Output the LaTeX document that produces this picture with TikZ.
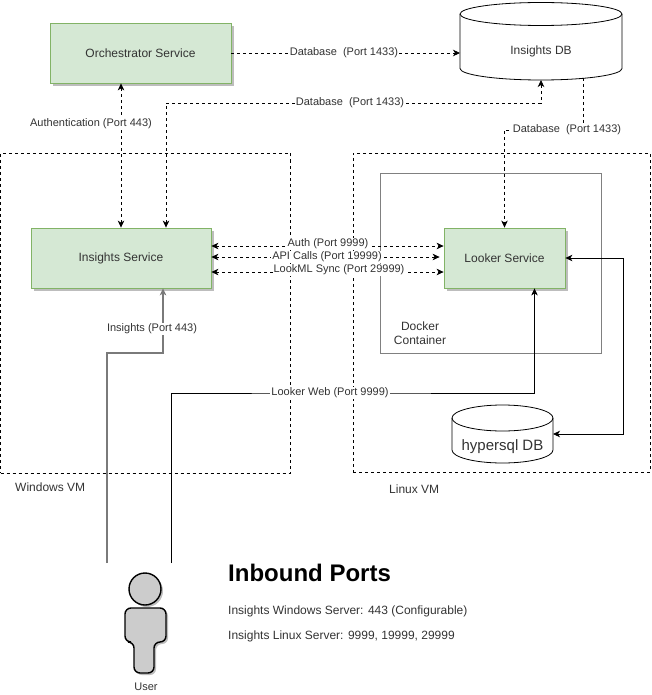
\documentclass[tikz,border=0pt]{standalone}
\usepackage{fontspec}
\setmainfont{Liberation Sans}
\usetikzlibrary{arrows.meta,calc,shadows}
\definecolor{gfill}{HTML}{D5E8D4}
\definecolor{gline}{HTML}{82B366}
\definecolor{txt}{HTML}{333333}
\definecolor{shad}{HTML}{BDBDBD}
\definecolor{boxgray}{HTML}{808080}
\definecolor{actfill}{HTML}{CCCCCC}
\definecolor{wireg}{HTML}{7A7A7A}
\tikzset{
  tip/.style={-{Stealth[length=7pt,width=6.5pt,inset=2pt]}},
  twotip/.style={{Stealth[length=7pt,width=6.5pt,inset=2pt]}-{Stealth[length=7pt,width=6.5pt,inset=2pt]}},
  svc/.style={draw=gline, fill=gfill, line width=0.8pt, inner sep=0pt,
    minimum height=60pt, text=txt, font=\fontsize{12}{14}\selectfont,
    drop shadow={shadow xshift=3pt, shadow yshift=-3pt, fill=shad, opacity=1}},
  vmbox/.style={draw=black, line width=0.8pt, dash pattern=on 3pt off 3pt, inner sep=0pt},
  dashwire/.style={draw=black, line width=0.8pt, dash pattern=on 3pt off 3pt},
  solidwire/.style={draw=black, line width=0.8pt},
  graywire/.style={draw=wireg, line width=1.6pt},
  lbl/.style={fill=white, inner sep=1pt, text=txt, font=\fontsize{11}{13}\selectfont},
  plain/.style={inner sep=0pt, text=txt, font=\fontsize{12}{14}\selectfont},
  hook/.style={inner sep=0pt, outer sep=0pt},
}
\begin{document}
\begin{tikzpicture}[x=1pt,y=-1pt]
\useasboundingbox (0,0) rectangle (651,695);

% VM boxes and docker container
\node[vmbox, minimum width=289.5pt, minimum height=320pt] (winvm) at (145.25,313) {};
\node[vmbox, minimum width=297pt, minimum height=319pt] (linvm) at (501.5,312.5) {};
\node[draw=boxgray, line width=0.8pt, inner sep=0pt, minimum width=221pt, minimum height=180pt] (docker) at (490.5,263) {};
\node[plain, align=center] (dockerlbl) at (420,333) {Docker\\Container};
\node[plain, anchor=west] (winlbl) at (15,487) {Windows VM};
\node[plain, anchor=west] (linlbl) at (389,489) {Linux VM};

% services
\node[svc, minimum width=181pt] (orch) at (140.5,53) {Orchestrator Service};
\node[svc, minimum width=180pt] (ins) at (121,258) {Insights Service};
\node[svc, minimum width=121pt] (look) at (504.5,258) {Looker Service};

% Insights DB cylinder
\node[hook, minimum width=162pt, minimum height=77.5pt] (idb) at (541,41.25) {};
\path[draw=black, fill=white, line width=0.8pt]
  (460,14) -- (460,68.5) arc[start angle=180, end angle=360, x radius=81pt, y radius=11.5pt]
  -- (622,14) arc[start angle=0, end angle=180, x radius=81pt, y radius=11.5pt] -- cycle;
\draw[line width=0.8pt] (460,14) arc[start angle=180, end angle=360, x radius=81pt, y radius=11.5pt];
\node[plain] (idbt) at (541,51) {Insights DB};

% hypersql DB cylinder
\node[hook, minimum width=101pt, minimum height=58pt] (hdb) at (502.5,434) {};
\path[draw=black, fill=white, line width=0.8pt]
  (452,418) -- (452,450) arc[start angle=180, end angle=360, x radius=50.5pt, y radius=13pt]
  -- (553,418) arc[start angle=0, end angle=180, x radius=50.5pt, y radius=13pt] -- cycle;
\draw[line width=0.8pt] (452,418) arc[start angle=180, end angle=360, x radius=50.5pt, y radius=13pt];
\node[inner sep=0pt, text=txt, font=\fontsize{15}{17}\selectfont] (hdbt) at (502.5,447) {hypersql DB};

% user actor
\coordinate (u1) at (107,563);
\coordinate (u2) at (171,563);
\begin{scope}[shift={(2,2)}]
  \fill[shad] (145,589) circle[radius=16pt];
  \fill[shad, rounded corners=6pt] (134,673) -- (134,642) -- (125,642) -- (125,608) -- (166,608) -- (166,642) -- (154,642) -- (154,673) -- cycle;
\end{scope}
\draw[fill=actfill, line width=1.4pt] (145,589) circle[radius=16pt];
\draw[fill=actfill, line width=1.4pt, rounded corners=6pt] (134,673) -- (134,642) -- (125,642) -- (125,608) -- (166,608) -- (166,642) -- (154,642) -- (154,673) -- cycle;
\node[inner sep=0pt, text=txt, font=\fontsize{11}{13}\selectfont] (user) at (146,687) {User};

% label anchor coordinates
\coordinate (db2y) at (350,103);
\coordinate (db3y) at (540,130);
\coordinate (ipy) at (135,353);
\coordinate (lwy) at (330,393);
\coordinate (hx) at (623,350);

% connectors
\draw[dashwire, tip] (orch.east) -- (orch.east -| idb.west);
\node[lbl] (l1) at (344,53) {Database~ (Port 1433)};

\draw[dashwire, twotip] (ins.north) -- (ins.north |- orch.south);
\node[lbl] (l2) at (91,124) {Authentication (Port 443)};

\draw[dashwire, twotip] ([xshift=45pt]ins.north) |- (db2y) -| (idb.south);
\node[lbl] (l3) at (db2y) {Database~ (Port 1433)};

\draw[dashwire, tip] ([xshift=42pt,yshift=2pt]idb.south) |- (db3y) -| (look.north);
\node[lbl] (l4) at (567,130) {Database~ (Port 1433)};

\draw[dashwire, twotip] ([yshift=-14pt]ins.east) -- ([yshift=-14pt]look.west);
\draw[dashwire, twotip] ([yshift=1pt]ins.east) -- ([yshift=1pt,xshift=-4pt]look.west);
\draw[dashwire, twotip] ([yshift=12pt]ins.east) -- ([yshift=12pt]look.west);
\node[lbl] (l5) at (328,244) {Auth (Port 9999)};
\node[lbl] (l6) at (327,257) {API Calls (Port 19999)};
\node[lbl] (l7) at (339,270) {LookML Sync (Port 29999)};

\draw[graywire, tip] (u1) |- (ipy) -| ([xshift=42pt]ins.south);
\node[lbl] (l8) at (152,329) {Insights (Port 443)};

\draw[solidwire, tip] (u2) |- (lwy) -| ([xshift=30pt]look.south);
\node[lbl] (l9) at (lwy) {Looker Web (Port 9999)};

\draw[solidwire, twotip] (look.east) -| (hx) |- (hdb.east);

% inbound ports text
\node[inner sep=0pt, anchor=west, font=\fontsize{24}{28}\bfseries] (head) at (228,573) {Inbound Ports};
\node[inner sep=0pt, anchor=west, text=txt, font=\fontsize{12}{14}\selectfont] (p1) at (228,611) {Insights Windows Server: 443 (Configurable)};
\node[inner sep=0pt, anchor=west, text=txt, font=\fontsize{12}{14}\selectfont] (p2) at (228,636) {Insights Linux Server: 9999, 19999, 29999};
\end{tikzpicture}
\end{document}
